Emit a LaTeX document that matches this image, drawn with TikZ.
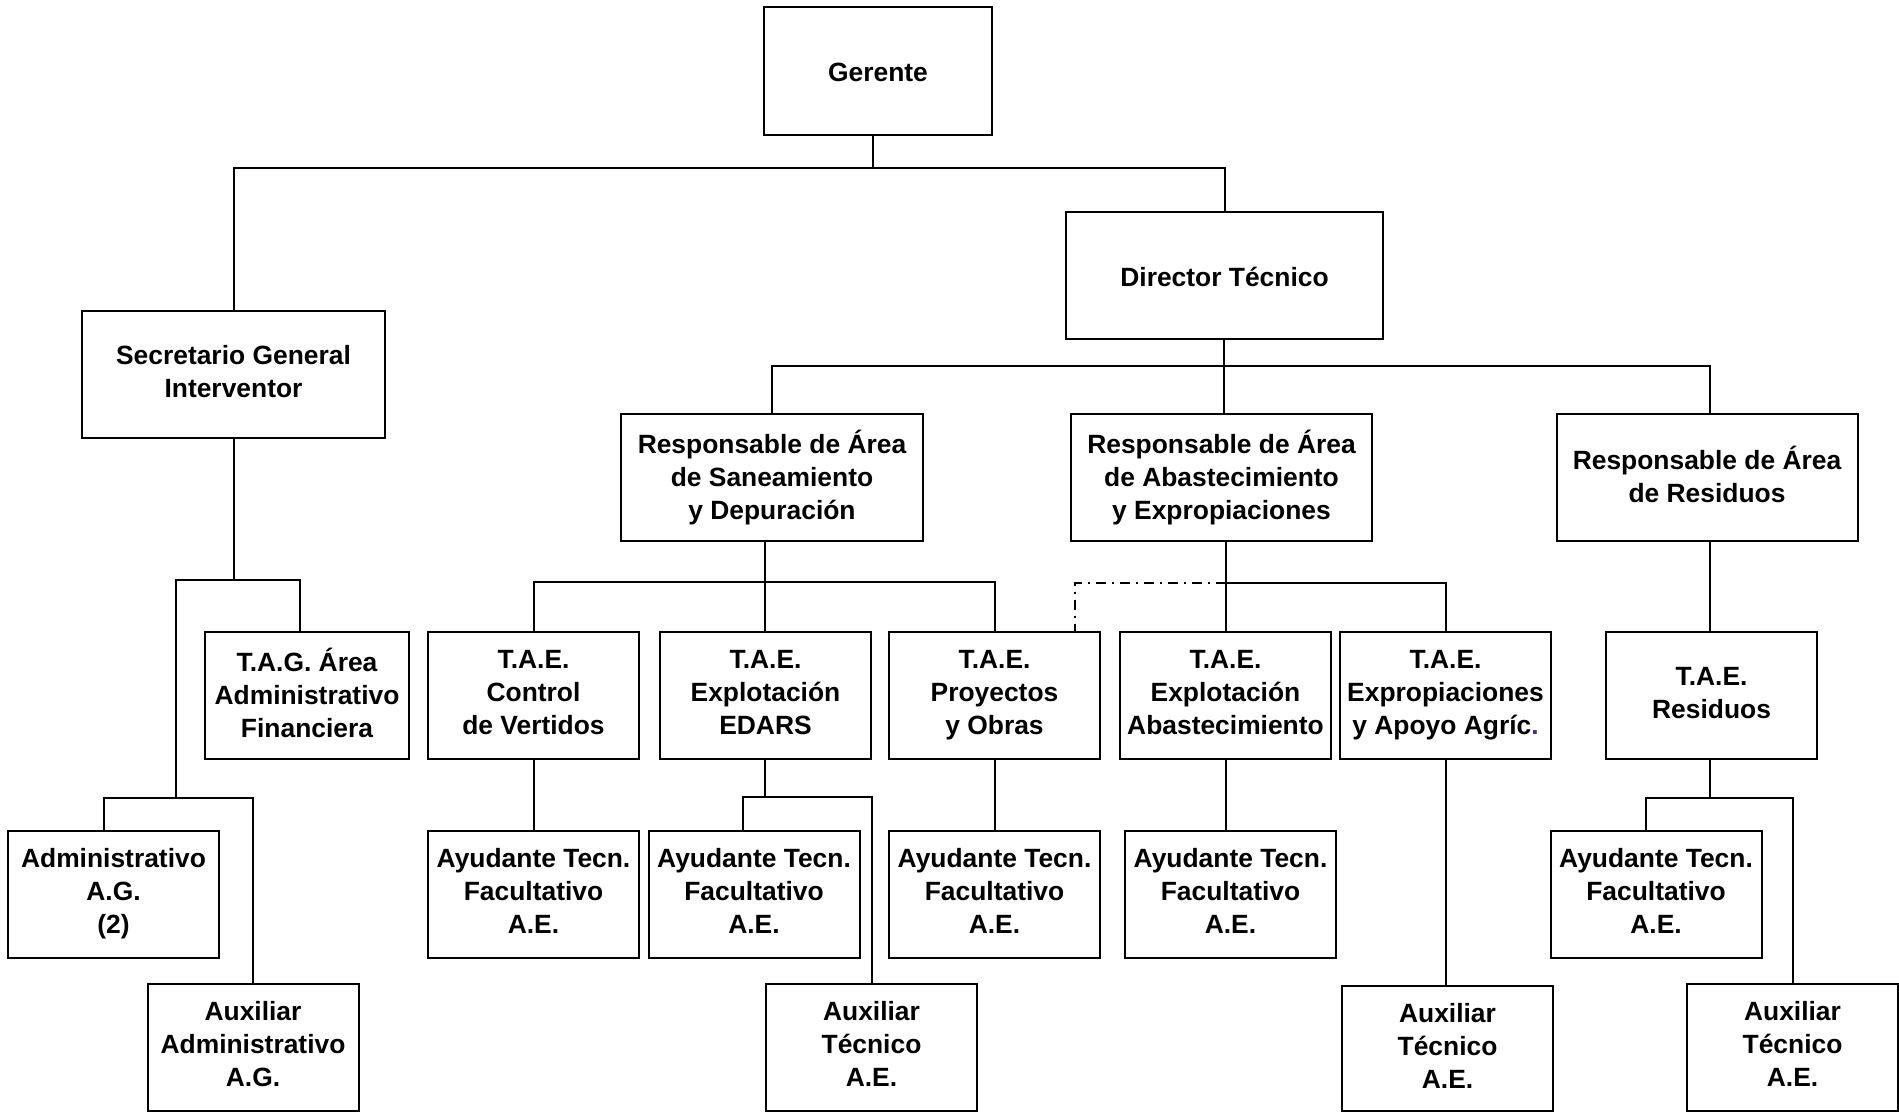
\documentclass[tikz,border=0pt]{standalone}
\usepackage{fontspec}
\setmainfont{Liberation Sans}
\definecolor{dotblue}{RGB}{51,51,170}

\begin{document}
\begin{tikzpicture}[x=0.5pt, y=-0.5pt, line width=1pt,
  every node/.style={rectangle, draw, align=center, inner sep=1pt,
    minimum width=105.5pt, minimum height=63.5pt,
    execute at begin node=\rule{0pt}{13.5pt},
    execute at end node=\rule[-3pt]{0pt}{3pt},
    font=\fontsize{13.2}{16.5}\selectfont\bfseries}]
\useasboundingbox (0,0) rectangle (1899,1113);
%
% --- Top (Gerente, Secretario, Director) ---
\node[minimum width=114pt] (ger) at (878,71) {Gerente};
\node[minimum width=151.5pt] (sec) at (233.5,374.5) {Secretario General\\Interventor};
\node[minimum width=158.5pt] (dir) at (1224.5,275.5) {Director Técnico};
% --- Responsables de Área ---
\node[minimum width=151pt] (rsan) at (772,477.5) {Responsable de Área\\de Saneamiento\\y Depuración};
\node[minimum width=150.5pt] (rabs) at (1221.5,477.5) {Responsable de Área\\de Abastecimiento\\y Expropiaciones};
\node[minimum width=150.5pt] (rres) at (1707,477.5) {Responsable de Área\\de Residuos};
% --- Técnicos ---
\node[minimum width=102pt] (tag) at (307,695.5) {T.A.G. Área\\Administrativo\\Financiera};
\node (tctl) at (533.5,695.5) {T.A.E.\\Control\\de Vertidos};
\node (tedr) at (765.5,695.5) {T.A.E.\\Explotación\\EDARS};
\node (tpro) at (994.5,695.5) {T.A.E.\\Proyectos\\y Obras};
\node (tabs) at (1225.5,695.5) {T.A.E.\\Explotación\\Abastecimiento};
\node (texp) at (1445.5,695.5) {T.A.E.\\Expropiaciones\\y Apoyo Agríc\textcolor{dotblue}{.}};
\node (tres) at (1711.5,695.5) {T.A.E.\\Residuos};
% --- Ayudantes ---
\node (adm) at (113.5,894) {Administrativo\\A.G.\\(2)};
\node (actl) at (533.5,894) {Ayudante Tecn.\\Facultativo\\A.E.};
\node (aedr) at (754,894) {Ayudante Tecn.\\Facultativo\\A.E.};
\node (apro) at (994.5,894) {Ayudante Tecn.\\Facultativo\\A.E.};
\node (aabs) at (1230.5,894) {Ayudante Tecn.\\Facultativo\\A.E.};
\node (ares) at (1656,894) {Ayudante Tecn.\\Facultativo\\A.E.};
% --- Auxiliares ---
\node (xadm) at (253,1047) {Auxiliar\\Administrativo\\A.G.};
\node (xedr) at (871.5,1047) {Auxiliar\\Técnico\\A.E.};
\node[minimum height=62.5pt] (xexp) at (1447.5,1048.5) {Auxiliar\\Técnico\\A.E.};
\node (xres) at (1792.5,1047) {Auxiliar\\Técnico\\A.E.};
%
% --- Bus points ---
\coordinate (b1) at (873,168);
\coordinate (b2) at (1224,366);
\coordinate (b3) at (176,580);
\coordinate (b4) at (176,798);
\coordinate (b5) at (765,582);
\coordinate (b6) at (1226,583);
\coordinate (b7) at (1710,798);
\coordinate (b8) at (765,797);
%
% --- Edges ---
\draw (ger.south -| b1)--(b1);
\draw (sec.north) |- (dir.north |- b1)--(dir.north);
\draw (dir.south -| b2)--(rabs.north -| b2);
\draw (rsan.north) |- (b2 -| b7)--(rres.north -| b7);
\draw (sec.south)--(sec.south |- b3);
\draw ([xshift=-3.5pt]tag.north) |- (b3)--(b4);
\draw ([xshift=-4.75pt]adm.north) |- (xadm.north |- b4)--(xadm.north);
\draw (rsan.south -| b5)--(tedr.north -| b5);
\draw (tctl.north) |- (tpro.north |- b5)--(tpro.north);
\draw (rabs.south -| b6)--(tabs.north -| b6);
\draw[dash pattern=on 5pt off 3pt on 1pt off 3pt] (b6) -| ([xshift=40pt]tpro.north);
\draw (b6) -| (texp.north);
\draw (rres.south -| b7)--(tres.north -| b7);
\draw (tctl.south)--(actl.north);
\draw (tedr.south -| b8)--(b8);
\draw ([xshift=-5.5pt]aedr.north) |- (xedr.north |- b8)--(xedr.north);
\draw (tpro.south)--(apro.north);
\draw (tabs.south -| b6)--(aabs.north -| b6);
\draw (texp.south)--(texp.south |- xexp.north);
\draw (tres.south -| b7)--(b7);
\draw ([xshift=-5pt]ares.north) |- (xres.north |- b7)--(xres.north);
%
\end{tikzpicture}
\end{document}
